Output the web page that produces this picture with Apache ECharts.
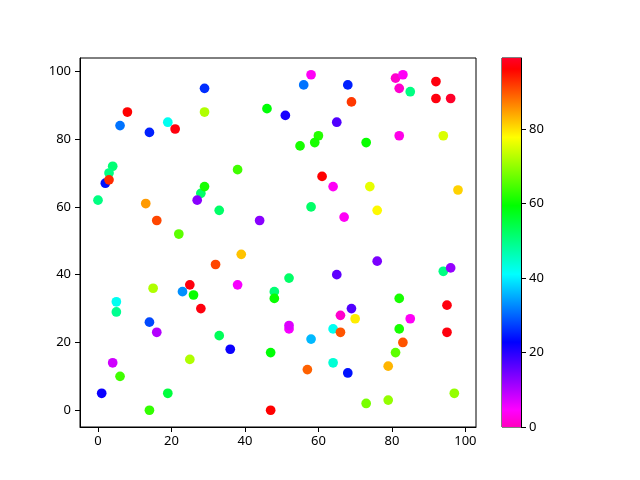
<!DOCTYPE html>
<html>
<head>
<meta charset="utf-8">
<script src="https://cdn.jsdelivr.net/npm/echarts@6/dist/echarts.min.js"></script>
<style>html,body{margin:0;padding:0;background:#fff}#main{width:640px;height:480px}</style>
</head>
<body>
<div id="main"></div>
<script>
// x, y and colour value of each point
const xs = [29,8,29,46,6,19,21,14,4,3,2,3,0,13,16,22,38,28,29,27,33,44,
  58,56,68,81,83,82,85,92,92,96,69,51,65,60,59,55,73,82,94,61,64,74,98,58,76,67,
  39,32,25,38,15,23,26,28,5,5,14,16,33,36,47,48,48,4,25,6,1,19,14,47,
  76,52,65,94,96,82,95,69,66,70,85,52,52,64,66,58,82,95,83,81,64,57,68,79,97,73,79];
const ys = [95,88,88,89,84,85,83,82,72,70,67,68,62,61,56,52,71,64,66,62,59,56,
  99,96,96,98,99,95,94,97,92,92,91,87,85,81,79,78,79,81,81,69,66,66,65,60,59,57,
  46,43,37,37,36,35,34,30,32,29,26,23,22,18,17,35,33,14,15,10,5,5,0,0,
  44,39,40,41,42,33,31,30,28,27,27,24,25,24,23,21,24,23,20,17,14,12,11,13,5,2,3];
const cs = [26,96,72,59,31,42,97,25,51,50,24,93,50,85,91,66,64,52,61,13,52,13,
  4,31,25,1,4,1,50,97,97,99,92,21,17,62,61,61,60,3,75,96,4,76,81,52,78,4,
  82,91,97,5,72,33,60,97,42,49,28,10,53,22,59,51,60,8,72,64,22,55,63,96,
  14,52,16,50,12,61,97,17,1,79,4,5,7,42,90,36,61,97,90,66,44,89,24,83,70,68,70];
const xTicks = [0,20,40,60,80,100];
const yTicks = [0,20,40,60,80,100];
const cTicks = [0,20,40,60,80];

// gist_rainbow_r colormap stops
const cmapStops = [
  [0.000,[255,0,191]],[0.046,[255,0,255]],[0.230,[0,0,255]],[0.414,[0,255,255]],
  [0.600,[0,255,0]],[0.785,[255,255,0]],[0.970,[255,0,0]],[1.000,[255,0,41]]
];
function cmap(t){
  for(let i=1;i<cmapStops.length;i++){
    const [t1,c1]=cmapStops[i-1],[t2,c2]=cmapStops[i];
    if(t<=t2){
      const f=(t-t1)/(t2-t1);
      const c=c1.map((v,k)=>Math.round(v+(c2[k]-v)*f));
      return 'rgb('+c.join(',')+')';
    }
  }
  return 'rgb(255,0,41)';
}
const palette=[];for(let i=0;i<=100;i++)palette.push(cmap(i/100));
const gradStops=cmapStops.map(s=>({offset:s[0],color:'rgb('+s[1].join(',')+')'}));

const cmin = 0, cmax = Math.max(...cs);
const xMin = Math.min(...xs), xMax = Math.max(...xs);
const yMin = Math.min(...ys), yMax = Math.max(...ys);
const xPad = (xMax-xMin)*0.05, yPad=(yMax-yMin)*0.05;
const points = xs.map((x,i)=>[x,ys[i],cs[i]]);

const font = 'Noto Sans';
const chart = echarts.init(document.getElementById('main'));
chart.setOption({
  animation:false,
  backgroundColor:'#fff',
  textStyle:{fontFamily:font},
  grid:[
    {left:80,top:58,width:396,height:369,show:true,borderColor:'#000',borderWidth:1,backgroundColor:'transparent'},
    {left:502,top:58,width:19,height:369,show:true,borderColor:'#000',borderWidth:1}
  ],
  xAxis:[
    {type:'value',gridIndex:0,min:xMin-xPad,max:xMax+xPad,
     axisLine:{show:true,onZero:false,lineStyle:{color:'#000',width:1}},
     axisTick:{show:true,length:5,customValues:xTicks,lineStyle:{color:'#000'}},
     axisLabel:{customValues:xTicks,color:'#000',fontSize:13,margin:8,fontFamily:font},
     splitLine:{show:false}},
    {type:'category',gridIndex:1,data:['c'],show:false,boundaryGap:true}
  ],
  yAxis:[
    {type:'value',gridIndex:0,min:yMin-yPad,max:yMax+yPad,
     axisLine:{show:true,onZero:false,lineStyle:{color:'#000',width:1}},
     axisTick:{show:true,length:5,customValues:yTicks,lineStyle:{color:'#000'}},
     axisLabel:{customValues:yTicks,color:'#000',fontSize:13,margin:9,fontFamily:font},
     splitLine:{show:false}},
    {type:'value',gridIndex:1,position:'right',min:cmin,max:cmax,
     axisLine:{show:true,lineStyle:{color:'#000',width:1}},
     axisTick:{show:true,length:5,customValues:cTicks,lineStyle:{color:'#000'}},
     axisLabel:{customValues:cTicks,color:'#000',fontSize:13,margin:8,fontFamily:font},
     splitLine:{show:false}}
  ],
  visualMap:{type:'continuous',show:false,min:cmin,max:cmax,dimension:2,seriesIndex:0,
    inRange:{color:palette}},
  series:[
    {type:'scatter',xAxisIndex:0,yAxisIndex:0,data:points,symbolSize:9.7,
     itemStyle:{opacity:1}},
    {type:'bar',xAxisIndex:1,yAxisIndex:1,data:[cmax],barWidth:'100%',
     itemStyle:{color:new echarts.graphic.LinearGradient(0,1,0,0,gradStops)}}
  ]
});
</script>
</body>
</html>
